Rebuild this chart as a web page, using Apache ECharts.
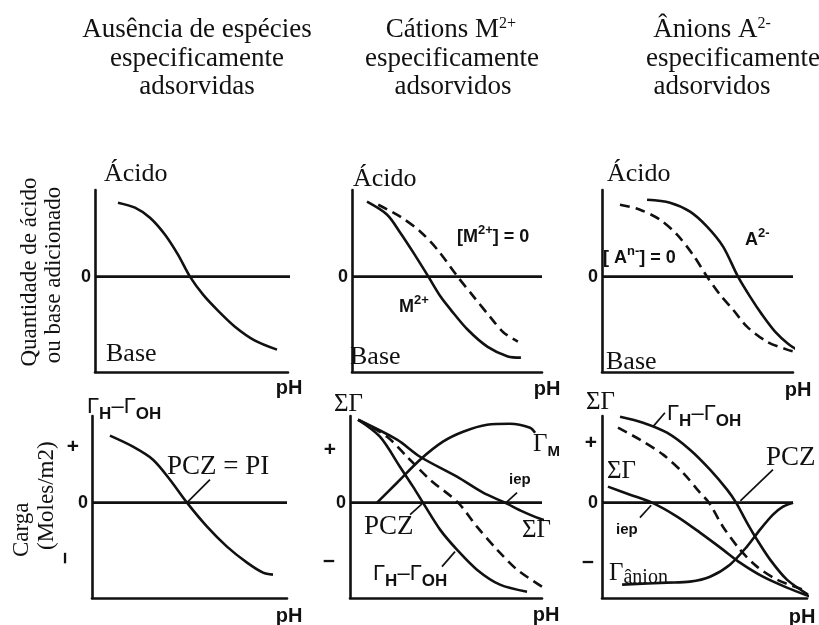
<!DOCTYPE html>
<html>
<head>
<meta charset="utf-8">
<script src="https://cdn.jsdelivr.net/npm/echarts@6/dist/echarts.min.js"></script>
<style>
  html, body { margin: 0; padding: 0; background: #fff; }
  #chart { width: 819px; height: 625px; }
</style>
</head>
<body>
<div id="chart"></div>
<script>
// ---- Titration curves (amount of acid or base added vs pH) ----
const titrationBlank      = [[11.9,85.4],[20.7,79.6],[28.5,68],[36.3,48.4],[43,25.4],[49.2,0],[56,-20.8],[63.7,-39.2],[72.5,-57.7],[82.9,-73.8],[94.3,-84.2]];
const titrationCation     = [[7.9,86.5],[18.5,71.5],[25.4,50.7],[32.3,27.7],[40.2,0],[46.6,-23],[51.9,-38],[60.8,-61],[71.4,-81],[82,-92],[88.9,-93.4]];
const titrationCationRef  = [[13.8,83],[25.4,69.2],[36,51.9],[45,31.1],[55.6,0],[64,-23],[73,-47.3],[79.9,-64.6],[87.3,-75]];
const titrationAnion      = [[23.6,88.8],[35.6,85.4],[46.1,75],[55,57.7],[63.4,34.6],[71.2,0],[77.5,-23],[83.8,-43.8],[90.6,-63.4],[97.4,-77.3],[103.7,-86.5]];
const titrationAnionRef   = [[9.4,83],[19.9,77.3],[30.4,65.7],[39.3,48.4],[47.6,25.4],[55,0],[61.8,-20.8],[68.6,-38],[75.9,-57.7],[86.4,-75],[96.9,-84.2],[102.6,-87.7]];

// ---- Surface charge curves (Moles/m2 vs pH) ----
const chargeBlank          = [[9.2,77.3],[21,64.6],[31.3,49.6],[40,26.5],[48.7,0],[59,-27.7],[69.2,-50.7],[79.5,-69.2],[87.7,-80.7],[92.8,-83]];
const chargeCationSum      = [[4.2,95.7],[24.5,72.7],[36.5,53],[55.7,30],[69.3,11.5],[80.7,0],[90.1,-10.4],[100.5,-19.6],[113.5,-25.4]];
const chargeCationProton   = [[4.2,95.7],[15.6,76.1],[26,41.5],[32.8,18.5],[38,0],[46.9,-31.1],[55.7,-54.2],[66.1,-77.3],[78.1,-94.6],[92.2,-102.7]];
const chargeCationRef      = [[4.2,95.7],[19.3,76.1],[29.7,53],[41.7,26.5],[56.3,0],[66.1,-27.7],[76.6,-54.2],[87,-77.3],[100,-96.9]];
const chargeCationAdsorbed = [[14.1,0],[24.5,23],[36.5,49.6],[48.4,70.4],[58.9,81.9],[71.4,90],[83.3,91.1],[93.8,86.5],[96.4,80.7]];
const chargeAnionProton    = [[8.8,99.2],[20,92.3],[31.7,80.7],[42.9,61.1],[52.7,38.1],[61,15],[65.4,0],[70.7,-23],[75.6,-42.7],[82,-65.7],[90.2,-88.8],[100.5,-106]];
const chargeAnionRef       = [[7.8,86.5],[18.5,72.7],[29.8,55.4],[39.5,34.6],[47.8,11.5],[52.2,0],[59,-27.7],[67.3,-54.2],[75.6,-73.8],[85.4,-88.8],[98,-100.3]];
const chargeAnionSum       = [[2.9,18.5],[13.7,9.2],[24.4,0],[36.6,-16.1],[47.8,-34.6],[59,-54.2],[67.3,-69.2],[78.5,-85.4],[90.2,-98],[101.5,-108.4]];
const chargeAnionAdsorbed  = [[9.8,-94.6],[31.7,-92.3],[42.9,-91.1],[52.7,-85.4],[62.4,-71.5],[70.7,-50.7],[77.1,-31.1],[83.4,-13.8],[88.3,-4.6],[93.2,0]];

// ---- Zero-line extents (pH units on each panel) ----
const zeroEnds = [103.6, 100, 100, 100, 100, 93.2];

// ---- Leader lines from labels to the points they name ----
const leaderPczBlank    = [[60.5,26.5],[48.7,0]];
const leaderIepCation   = [[81.3,0],[87,11.5]];
const leaderPczCation   = [[31.3,-13.8],[37.5,-1.5]];
const leaderProtCation  = [[47.9,-73.8],[54.7,-56.5]];
const leaderProtAnion   = [[24.9,87.7],[30.7,103.8]];
const leaderPczAnion    = [[83.4,38],[67.5,2]];
const leaderIepAnion    = [[18.5,-17.3],[24,-3]];

const SERIF = '"Liberation Serif", "Times New Roman", serif';
const SANS = '"Liberation Sans", Arial, sans-serif';
const INK = '#111';

const panels = [
  { left: 95,  top: 190, width: 193 },
  { left: 352, top: 190, width: 190 },
  { left: 602, top: 190, width: 191 },
  { left: 92,  top: 416, width: 195 },
  { left: 350, top: 416, width: 192 },
  { left: 602, top: 416, width: 205 }
];

const grid = panels.map(p => ({ left: p.left, top: p.top, width: p.width, height: 182 }));
const axisLine = { show: true, onZero: false, lineStyle: { color: INK, width: 2.6 } };
const xAxis = panels.map((p, i) => ({
  gridIndex: i, type: 'value', min: 0, max: 100,
  axisLine, axisTick: { show: false }, axisLabel: { show: false }, splitLine: { show: false }
}));
const yAxis = panels.map((p, i) => ({
  gridIndex: i, type: 'value', min: -110, max: 100, interval: 110,
  axisLine, axisTick: { show: false }, splitLine: { show: false },
  axisLabel: {
    formatter: v => (v === 0 ? '0' : ''), margin: 4,
    fontFamily: SANS, fontWeight: 'bold', fontSize: 18, color: INK
  }
}));

function curve(i, data, dashed) {
  return {
    type: 'line', xAxisIndex: i, yAxisIndex: i, data,
    symbol: 'none', smooth: 0.3, clip: false, silent: true,
    lineStyle: { color: INK, width: 2.6, type: dashed ? [10, 6] : 'solid' }
  };
}
function straight(i, data, width) {
  return { type: 'line', xAxisIndex: i, yAxisIndex: i, data, symbol: 'none', clip: false, silent: true,
           lineStyle: { color: INK, width } };
}

const series = [];
zeroEnds.forEach((end, i) => series.push(straight(i, [[0, 0], [end, 0]], 2.6)));
series.push(curve(0, titrationBlank));
series.push(curve(1, titrationCation));
series.push(curve(1, titrationCationRef, true));
series.push(curve(2, titrationAnion));
series.push(curve(2, titrationAnionRef, true));
series.push(curve(3, chargeBlank));
series.push(curve(4, chargeCationSum));
series.push(curve(4, chargeCationProton));
series.push(curve(4, chargeCationRef, true));
series.push(curve(4, chargeCationAdsorbed));
series.push(curve(5, chargeAnionProton));
series.push(curve(5, chargeAnionRef, true));
series.push(curve(5, chargeAnionSum));
series.push(curve(5, chargeAnionAdsorbed));
[[3, leaderPczBlank], [4, leaderIepCation], [4, leaderPczCation], [4, leaderProtCation],
 [5, leaderProtAnion], [5, leaderPczAnion], [5, leaderIepAnion]]
  .forEach(([i, d]) => series.push(straight(i, d, 1.7)));

// ---- Text helpers ----
function T(x, y, text, o) {
  o = o || {};
  return {
    type: 'text', x, y, rotation: o.rot || 0, silent: true,
    style: {
      text, fill: INK,
      fontFamily: o.ff || SERIF, fontSize: o.fs || 26, fontWeight: o.fw || 'normal',
      align: o.align || 'left', verticalAlign: o.va || 'middle',
      rich: o.rich
    }
  };
}
const titleRich = {
  t: { fontFamily: SERIF, fontSize: 27, lineHeight: 28.5, verticalAlign: 'middle' },
  p: { fontFamily: SERIF, fontSize: 16, lineHeight: 16, verticalAlign: 'top' }
};
const protonRich = {
  g: { fontFamily: SANS, fontSize: 22, lineHeight: 32, verticalAlign: 'middle' },
  s: { fontFamily: SANS, fontWeight: 'bold', fontSize: 17, lineHeight: 17, verticalAlign: 'bottom' }
};
const ionRich = {
  b: { fontFamily: SANS, fontWeight: 'bold', fontSize: 18, lineHeight: 26, verticalAlign: 'middle' },
  p: { fontFamily: SANS, fontWeight: 'bold', fontSize: 13, lineHeight: 13, verticalAlign: 'top' }
};
const gammaRich = {
  g: { fontFamily: SERIF, fontSize: 25, lineHeight: 30, verticalAlign: 'middle' },
  s: { fontFamily: SANS, fontWeight: 'bold', fontSize: 15, lineHeight: 15, verticalAlign: 'bottom' },
  a: { fontFamily: SERIF, fontSize: 20, lineHeight: 20, verticalAlign: 'bottom' }
};
const PROTON = '{g|Γ}{s|H}{g|–Γ}{s|OH}';
const sansB = (fs, extra) => Object.assign({ ff: SANS, fw: 'bold', fs }, extra || {});
const head = (x, y, text, align) => T(x, y, text, { align: align || 'center', rich: titleRich });

const graphic = [
  // column headings
  head(197, 30, '{t|Ausência de espécies}'),
  head(197, 58.5, '{t|especificamente}'),
  head(197, 87, '{t|adsorvidas}'),
  head(451, 30, '{t|Cátions M}{p|2+}'),
  head(452, 58.5, '{t|especificamente}'),
  head(453, 87, '{t|adsorvidos}'),
  head(712, 30, '{t|Ânions A}{p|2-}'),
  head(646, 58.5, '{t|especificamente}', 'left'),
  head(712, 87, '{t|adsorvidos}'),

  // axis titles
  T(30, 272, 'Quantidade de ácido', { fs: 23, align: 'center', rot: Math.PI / 2 }),
  T(54, 275, 'ou base adicionado', { fs: 23, align: 'center', rot: Math.PI / 2 }),
  T(22, 557, 'Carga', { fs: 23, align: 'left', rot: Math.PI / 2 }),
  T(47, 550, '(Moles/m2)', { fs: 23, align: 'left', rot: Math.PI / 2 }),

  // top row labels
  T(104, 174, 'Ácido'), T(353, 179, 'Ácido'), T(607, 174, 'Ácido'),
  T(106, 354, 'Base'), T(350, 357, 'Base'), T(606, 362, 'Base'),
  T(457, 237, '{b|[M}{p|2+}{b|] = 0}', { rich: ionRich }),
  T(399, 307, '{b|M}{p|2+}', { rich: ionRich }),
  T(745, 240, '{b|A}{p|2-}', { rich: ionRich }),
  T(603, 258, '{b|[ A}{p|n-}{b|] = 0}', { rich: ionRich }),
  T(289, 388, 'pH', sansB(20, { align: 'center' })),
  T(547, 389, 'pH', sansB(20, { align: 'center' })),
  T(798, 390, 'pH', sansB(20, { align: 'center' })),

  // bottom row labels
  T(87, 407, PROTON, { rich: protonRich }),
  T(73, 447, '+', sansB(21, { align: 'center' })),
  T(66, 558, '−', sansB(21, { align: 'center', rot: Math.PI / 2 })),
  T(167, 467, 'PCZ = PI', { fs: 27 }),
  T(289, 616, 'pH', sansB(20, { align: 'center' })),

  T(334, 404, 'ΣΓ', { fs: 25 }),
  T(330, 450, '+', sansB(21, { align: 'center' })),
  T(329, 562, '−', sansB(21, { align: 'center' })),
  T(533, 444, '{g|Γ}{s|M}', { rich: gammaRich }),
  T(509, 480, 'iep', sansB(15)),
  T(364, 527, 'PCZ', { fs: 27 }),
  T(522, 530, 'ΣΓ', { fs: 25 }),
  T(373, 574, PROTON, { rich: protonRich }),
  T(546, 615, 'pH', sansB(20, { align: 'center' })),

  T(586, 402, 'ΣΓ', { fs: 25 }),
  T(591, 443, '+', sansB(21, { align: 'center' })),
  T(588, 563, '−', sansB(21, { align: 'center' })),
  T(667, 414, PROTON, { rich: protonRich }),
  T(766, 458, 'PCZ', { fs: 27 }),
  T(607, 471, 'ΣΓ', { fs: 25 }),
  T(616, 530, 'iep', sansB(15)),
  T(609, 573, '{g|Γ}{a|ânion}', { rich: gammaRich }),
  T(802, 617, 'pH', sansB(20, { align: 'center' }))
];

const chart = echarts.init(document.getElementById('chart'), null, { renderer: 'canvas' });
chart.setOption({
  animation: false,
  backgroundColor: '#fff',
  grid, xAxis, yAxis, series, graphic
});
</script>
</body>
</html>
